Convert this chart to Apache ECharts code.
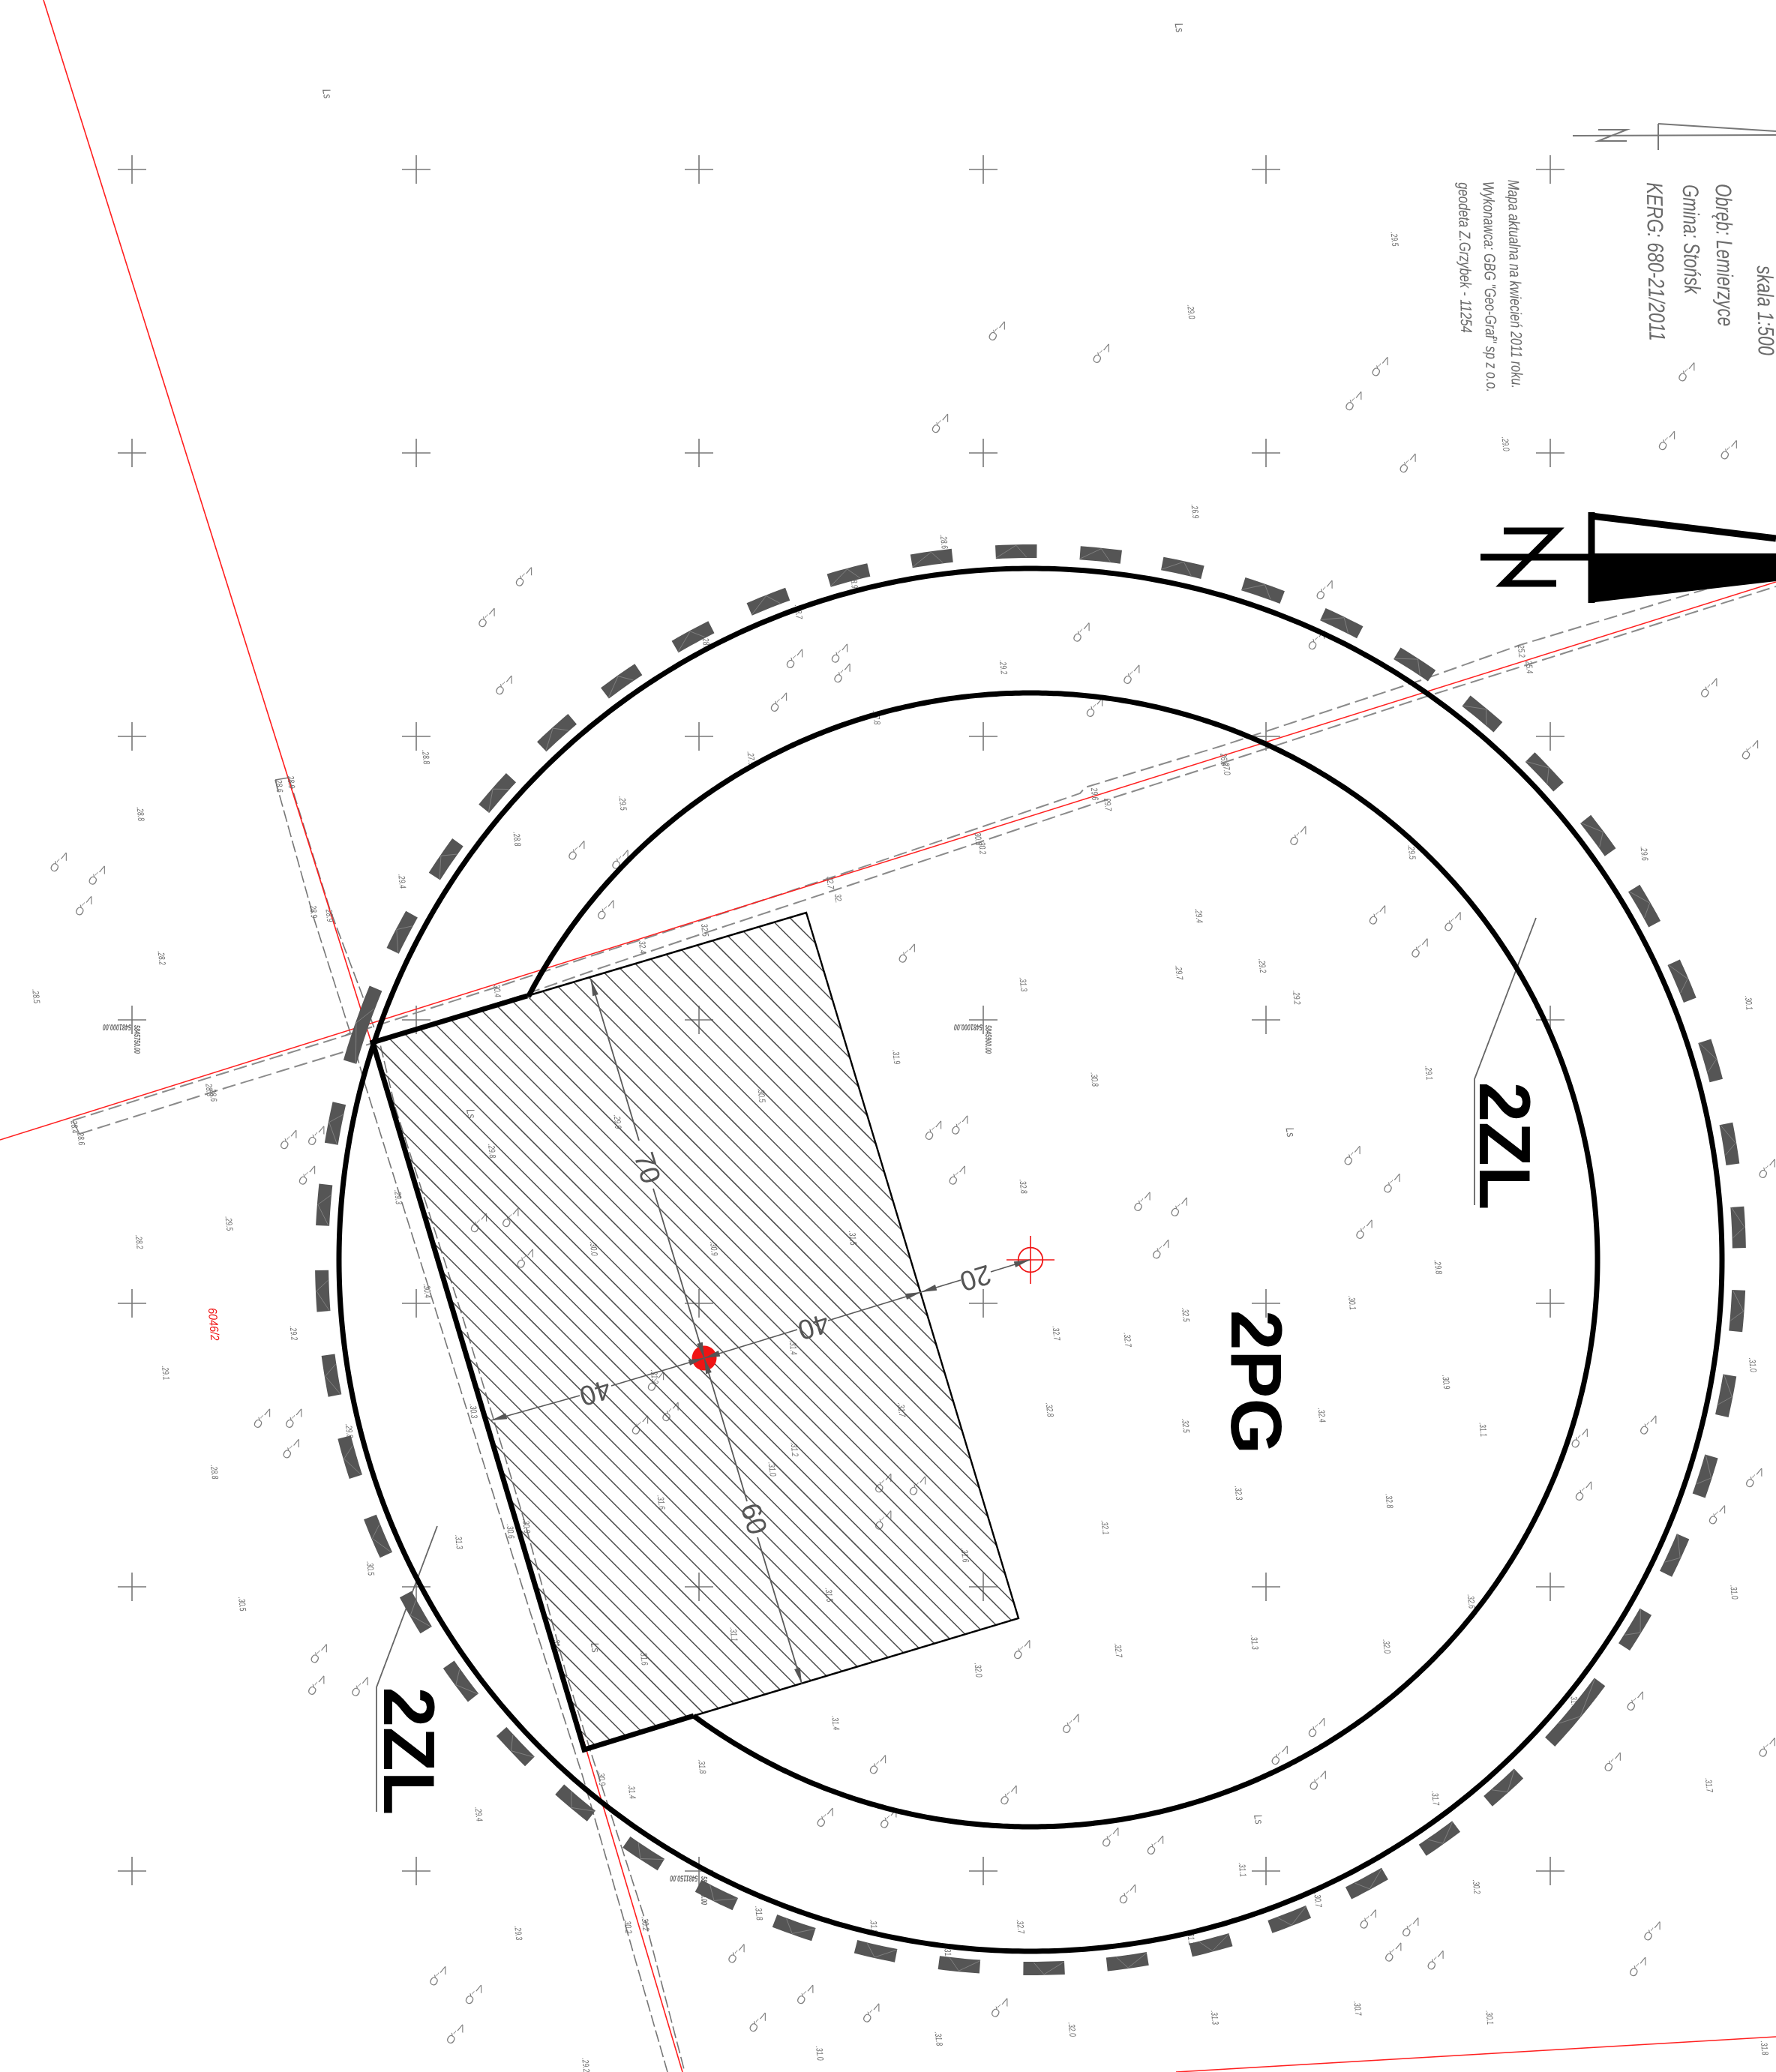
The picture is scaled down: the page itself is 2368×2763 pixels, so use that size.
<!DOCTYPE html>
<html><head><meta charset="utf-8">
<style>html,body{margin:0;padding:0;background:#fff}#c{width:2368px;height:2763px}</style>
<script src="https://cdn.jsdelivr.net/npm/echarts@6/dist/echarts.min.js"></script>
</head><body><div id="c"></div>
<script>
// ---- sheet data: all coordinates are sheet units of the map ----
const sheetW = 2368, sheetH = 2763;
const previewUnit = 2368 / 1344;   // values listed in "sheet/1.762" units below

const gridX = [176, 555, 932, 1311, 1688, 2067];
const gridY = [226, 604, 982, 1360, 1738, 2116, 2495];

const target = [1374, 1680];
const outerRadius = 922, innerRadius = 756, ringRadius = 945;
const parcelThick = [[703,1328],[497,1390],[779,2333],[925,2288]];
const parcelThin = [[703,1328],[1075,1217],[1358,2158],[925,2288]];
const parcelCorners = [[497,1390],[1075,1217],[1358,2158],[779,2333]];
const hatchAnchor = [1053,1223.7], hatchSlope = 1.0, hatchStep = 18.9;

const redLines = [
  [[58,0],[495,1390],[782,2334],[910,2763]],
  [[0,1520],[2368,776]],
  [[1568,2763],[2368,2716]]
];
const roadUpper = [[97,1494],[237,1450],[460,1381],[660,1317],[800,1271],[1000,1206],[1112,1169],[1305,1104],[1440,1058],[1447,1050],[1631,994],[1895,907],[2027,860],[2270,787],[2368,755]];
const roadLower = [[106,1512],[303,1450],[500,1390],[700,1326],[800,1291],[934,1246],[1116,1186],[1309,1122],[1455,1073],[1631,1017],[1895,931],[2368,782]];
const pathLeft = [[367,1040],[418,1223],[467,1377],[487,1447],[707,2150],[777,2369],[890,2763]];
const pathRight = [[385,1037],[440,1213],[483,1327],[507,1393],[527,1477],[618,1760],[700,2031],[755,2232],[787,2334],[860,2560],[913,2763]];
const roadEnds = [[[97,1494],[106,1512]],[[367,1040],[385,1037]],[[467,1377],[460,1381]]];

const leaders = [
  [[2048,1224],[1966,1439],[1966,1607]],
  [[583,2035],[502,2250],[502,2416]]
];
const dimSegments = [
  [[939,1811],[1063,1773]],[[1104,1761],[1228,1723]],
  [[1228,1723],[1281,1707]],[[1321,1696],[1373,1680]],
  [[939,1811],[815,1848]],[[773,1861],[655,1894]],
  [[788,1307],[852,1521]],[[871,1585],[939,1811]],
  [[939,1811],[996,2002]],[[1010,2050],[1069,2245]]
];
const dimArrows = [ // tip, tail
  [[1373,1680],[1321,1696]],[[1228,1723],[1281,1707]],[[1228,1723],[1104,1761]],
  [[939,1811],[1063,1773]],[[939,1811],[815,1848]],[[655,1894],[773,1861]],
  [[788,1307],[852,1521]],[[939,1811],[871,1585]],[[939,1811],[996,2002]],[[1069,2245],[1010,2050]]
];
const dimLabels = [['20',1300,1702,163],['40',1084,1767,163],['40',793,1855,163],['70',861,1558,73],['60',1003,2026,73]];

// ring dash centres (preview units) with dash length in sheet units
const ringDashes = [[790,1489],[726,1487],[663,1476],[601,1459],[542,1435],[487,1403],[435,1365],[390,1322],[348,1273],[315,1220],[285,1163],[264,1103],[250,1041],[243,977],[245,912],[252,850],[303,705],[337,650],[375,599],[420,553],[470,515],[524,481],[581,454],[642,434],[705,421],[769,416],[833,419],[895,429],[956,446],[1016,470],[1071,502],[1122,540],[1168,585],[1210,632],[1244,686],[1272,743],[1294,803],[1308,866],[1315,929],[1314,992],[1305,1056],[1290,1117],[1267,1177],[1237,1233],[1137,1352],[1089,1391],[1034,1425],[975,1451],[916,1471],[853,1484]];
const ringLongDashes = [[272,775],[1191,1295]];

const treeMarks = [[1277,281],[1309,340],[1262,333],[1045,277],[1025,303],[1066,350],[755,250],[834,267],[712,320],[1003,446],[997,484],[819,478],[857,510],[829,535],[1294,520],[1325,567],[397,436],[369,467],[382,518],[602,498],[636,494],[638,509],[590,531],[437,643],[459,688],[470,650],[687,721],[983,632],[1043,692],[1100,697],[1075,717],[45,652],[74,662],[64,685],[219,862],[240,859],[233,889],[707,855],[727,851],[725,889],[1024,874],[1054,895],[1033,930],[865,909],[893,913],[879,945],[363,925],[387,921],[398,952],[1196,1088],[1248,1078],[1199,1128],[1338,884],[1328,1118],[1300,1146],[199,1073],[223,1073],[221,1096],[485,1078],[508,1068],[497,1045],[669,1122],[695,1124],[669,1150],[774,1248],[811,1304],[997,1307],[969,1328],[998,1347],[1238,1287],[1221,1333],[1338,1322],[242,1251],[240,1275],[273,1276],[764,1358],[665,1335],[625,1375],[673,1376],[841,1390],[875,1396],[854,1433],[1251,1461],[1240,1488],[1068,1458],[1055,1477],[1087,1483],[1036,1452],[558,1478],[610,1509],[574,1530],[660,1523],[757,1519],[332,1495],[359,1509],[345,1539]];

const spotHeights = [[1055,181,'.29.5'],[901,236,'.29.0'],[1139,336,'.29.0'],[904,387,'.26.9'],[714,410,'.28.6'],[646,440,'.28.9'],[604,463,'.28.7'],[534,487,'.28.9'],[759,505,'.29.2'],[663,543,'.27.8'],[568,574,'.27.9'],[322,573,'.28.8'],[471,608,'.29.5'],[106,616,'.28.8'],[391,635,'.28.8'],[304,667,'.29.4'],[122,725,'.28.2'],[27,754,'.28.5'],[1068,645,'.29.5'],[1244,646,'.29.6'],[907,693,'.29.4'],[892,736,'.29.7'],[955,731,'.29.2'],[981,755,'.29.2'],[774,745,'.31.3'],[1081,812,'.29.1'],[1323,759,'.30.1'],[678,800,'.31.9'],[828,817,'.30.8'],[576,829,'.30.5'],[467,849,'.29.9'],[372,871,'.29.8'],[301,906,'.29.3'],[774,898,'.32.8'],[645,937,'.31.5'],[540,945,'.30.9'],[449,945,'.30.0'],[173,926,'.29.5'],[105,940,'.28.2'],[222,1009,'.29.2'],[125,1039,'.29.1'],[323,977,'.30.4'],[897,995,'.32.5'],[1088,959,'.29.8'],[1023,986,'.30.1'],[799,1009,'.32.7'],[853,1014,'.32.7'],[600,1020,'.31.4'],[1326,1033,'.31.0'],[1094,1046,'.30.9'],[1000,1071,'.32.4'],[1122,1082,'.31.1'],[897,1079,'.32.5'],[794,1067,'.32.8'],[682,1067,'.31.7'],[495,1042,'.31.2'],[264,1083,'.29.8'],[358,1068,'.30.3'],[601,1097,'.31.2'],[584,1112,'.31.0'],[1051,1136,'.32.8'],[937,1130,'.32.3'],[836,1156,'.32.1'],[162,1114,'.28.8'],[500,1137,'.31.6'],[730,1177,'.31.6'],[627,1207,'.31.5'],[347,1167,'.31.3'],[280,1187,'.30.5'],[183,1214,'.30.5'],[386,1159,'.30.6'],[398,1155,'.30.9'],[1312,1205,'.31.0'],[1113,1212,'.32.6'],[949,1243,'.31.3'],[846,1249,'.32.7'],[740,1264,'.32.0'],[1049,1246,'.32.0'],[555,1237,'.31.1'],[487,1255,'.31.6'],[421,1245,'.31.4'],[632,1304,'.31.4'],[1191,1288,'.31.5'],[1293,1351,'.31.7'],[1086,1361,'.31.7'],[531,1337,'.31.8'],[478,1356,'.31.4'],[455,1346,'.30.9'],[362,1373,'.29.4'],[1117,1428,'.30.2'],[997,1438,'.30.7'],[940,1415,'.31.1'],[772,1458,'.32.7'],[574,1448,'.31.8'],[392,1463,'.29.3'],[661,1458,'.31.8'],[717,1479,'.31.7'],[901,1467,'.31.1'],[488,1456,'.30.2'],[475,1458,'.30.2'],[1127,1527,'.30.1'],[1027,1520,'.30.7'],[919,1527,'.31.3'],[811,1536,'.32.0'],[710,1543,'.31.8'],[620,1554,'.31.0'],[443,1563,'.29.2'],[1335,1550,'.31.8'],[211,595,'28.6'],[220,592,'28.9'],[237,690,'28.9'],[249,693,'28.9'],[376,750,'30.4'],[486,717,'32.4'],[533,704,'32.5'],[628,668,'32.7'],[634,680,'32.'],[740,635,'30.3'],[743,642,'30.2'],[828,601,'29.6'],[838,609,'29.7'],[926,575,'26.8'],[928,582,'27.0'],[1151,493,'25.2'],[1157,505,'25.4'],[158,825,'28.3'],[161,829,'28.6'],[56,853,'28.4'],[61,862,'28.6']];
const landUseLabels = [[892,21,'Ls'],[247,71,'Ls'],[976,857,'Ls'],[356,843,'Ls'],[450,1247,'Ls'],[952,1377,'Ls']];

const titleLines = [
  ['skala 1:500',1335,235,30,0.78],
  ['Obręb: Lemierzyce',1304,193,30,0.75],
  ['Gmina: Stońsk',1279,181,30,0.74],
  ['KERG: 680-21/2011',1252,198,30,0.79],
  ['Mapa aktualna na kwiecień 2011 roku.',1146,215,21,0.78],
  ['Wykonawca: GBG "Geo-Graf" sp z o.o.',1127,217,21,0.77],
  ['geodeta Z.Grzybek - 11254',1108,195,21,0.79]
];
const zoneLabels = [['2ZL',1999,1528],['2ZL',538,2335],['2PG',1668,1843]];
const parcelNumber = ['6046/2',284,1766];
const gridCoords = [
  ['5481000.00',156,1369,180],['5845750.00',182,1386,90],
  ['5481000.00',1291,1369,180],['5845900.00',1317,1386,90],
  ['5481150.00',912,2504,180],['5845850.00',938,2521,90]
];
const smallNorth = {n:[[2131,173],[2169,173],[2131,188],[2169,188]], axis:[[2097,181],[2368,180]], post:[[2211,165],[2211,200]], wing:[[2211,165],[2368,175]]};
const bigNorth = {n:[[2005,708],[2075,708],[2005,778],[2075,778]], axis:[[1974,743],[2124,743]], post:[[2122,683],[2122,804]], wing:[[2122,688],[2368,718]], fill:[[2118,738],[2368,738],[2368,775],[2118,804]]};

// ---- helpers ----
const rad = d => d * Math.PI / 180;
const sheet = p => [p[0] * previewUnit, p[1] * previewUnit];

function custom(name, items, render, z) {
  return {type:'custom', name, coordinateSystem:'cartesian2d', silent:true, clip:true, z:z||2,
    data: items.map((_, i) => [i, 0]), encode:{x:-1,y:-1},
    renderItem:(params, api) => render(items[params.dataIndex], api)};
}
function lines(name, paths, style, z) {
  return custom(name, paths, (p, api) => ({type:'polyline', shape:{points:p.map(q => api.coord(q))},
    style:Object.assign({fill:null, lineJoin:'miter'}, style)}), z);
}
function polygons(name, polys, fill, z) {
  return custom(name, polys, (p, api) => ({type:'polygon', shape:{points:p.map(q => api.coord(q))}, style:{fill}}), z);
}
// rows: [text, x, y, clockwise degrees, fontSize?, scaleX?]
function texts(name, rows, style, baseScale, z) {
  return custom(name, rows, (r, api) => {
    const c = api.coord([r[1], r[2]]);
    return {type:'text', x:c[0], y:c[1], rotation:-rad(r[3]||0), scaleX:r[5]||baseScale||1, scaleY:1,
      style:Object.assign({text:r[0], align:'center', verticalAlign:'middle'}, style, r[4]?{fontSize:r[4]}:{})};
  }, z);
}

// hatch lines clipped to the parcel
function hatchLines() {
  const len = Math.hypot(1, hatchSlope), d = [1/len, hatchSlope/len], n = [hatchSlope/len, -1/len], out = [];
  for (let k = -60; k <= 120; k++) {
    const p = [hatchAnchor[0] + n[0]*hatchStep*k, hatchAnchor[1] + n[1]*hatchStep*k], ts = [];
    parcelCorners.forEach((a, i) => {
      const b = parcelCorners[(i+1)%4], e = [b[0]-a[0], b[1]-a[1]];
      const den = d[0]*e[1]-d[1]*e[0]; if (Math.abs(den) < 1e-9) return;
      const t = ((a[0]-p[0])*e[1]-(a[1]-p[1])*e[0])/den;
      const u = ((a[0]-p[0])*d[1]-(a[1]-p[1])*d[0])/den;
      if (u >= 0 && u <= 1) ts.push(t);
    });
    if (ts.length >= 2) {
      const t0 = Math.min(...ts), t1 = Math.max(...ts);
      out.push([[p[0]+d[0]*t0, p[1]+d[1]*t0],[p[0]+d[0]*t1, p[1]+d[1]*t1]]);
    }
  }
  return out;
}
function arrowHead(a) {
  const [tip, tail] = a, L = Math.hypot(tail[0]-tip[0], tail[1]-tip[1]);
  const u = [(tail[0]-tip[0])/L, (tail[1]-tip[1])/L], v = [-u[1], u[0]], h = 21, w = 4;
  return [tip, [tip[0]+u[0]*h+v[0]*w, tip[1]+u[1]*h+v[1]*w], [tip[0]+u[0]*h-v[0]*w, tip[1]+u[1]*h-v[1]*w]];
}
const crosses = [];
gridX.forEach(x => gridY.forEach(y => { crosses.push([[x-19,y],[x+19,y]]); crosses.push([[x,y-19],[x,y+19]]); }));

function ringDashSeries(list, lenPx) {
  return custom('ring', list, (p, api) => {
    const s = sheet(p), a = Math.atan2(s[1]-target[1], s[0]-target[0]), da = lenPx/ringRadius/2;
    const c = api.coord(target), r = api.size([ringRadius, 0])[0];
    const pt = (ang, rr) => [c[0]+Math.cos(ang)*rr, c[1]+Math.sin(ang)*rr];
    const outer = [], inner = [];
    for (let i = 0; i <= 6; i++) { const t = a-da+2*da*i/6; outer.push(pt(t, r+9)); inner.unshift(pt(t, r-9)); }
    return {type:'group', children:[
      {type:'polygon', shape:{points:outer.concat(inner)}, style:{fill:'#555555'}},
      {type:'polyline', shape:{points:[pt(a-da, r-8), pt(a, r+8), pt(a+da*0.5, r-8)]}, style:{stroke:'#8a8a8a', lineWidth:0.8, fill:null}}
    ]};
  }, 6);
}
function arcSeries(name, r, start, end) {
  return custom(name, [0], (_, api) => {
    const c = api.coord(target), R = api.size([r,0])[0], pts = [], n = 720;
    for (let i = 0; i <= n; i++) { const t = start+(end-start)*i/n; pts.push([c[0]+Math.cos(t)*R, c[1]+Math.sin(t)*R]); }
    return {type:'polyline', shape:{points:pts}, style:{stroke:'#000', lineWidth:7, fill:null}};
  }, 7);
}
const innerStart = Math.atan2(parcelThick[0][1]-target[1], parcelThick[0][0]-target[0]);
const innerEnd = Math.atan2(parcelThick[3][1]-target[1], parcelThick[3][0]-target[0]);

const labelFont = '"Liberation Sans",sans-serif';
const chart = echarts.init(document.getElementById('c'), null, {renderer:'canvas', width:sheetW, height:sheetH});
chart.setOption({
  animation:false, backgroundColor:'#ffffff',
  grid:{left:0, right:0, top:0, bottom:0},
  xAxis:{type:'value', min:0, max:sheetW, show:false},
  yAxis:{type:'value', min:0, max:sheetH, inverse:true, show:false},
  series:[
    lines('grid crosses', crosses, {stroke:'#777777', lineWidth:1.6}, 1),
    lines('road upper', [roadUpper], {stroke:'#8a8a8a', lineWidth:2, lineDash:[18,7]}, 2),
    lines('road lower', [roadLower], {stroke:'#8a8a8a', lineWidth:2, lineDash:[18,7]}, 2),
    lines('path left', [pathLeft], {stroke:'#777777', lineWidth:1.6, lineDash:[16,5]}, 2),
    lines('path right', [pathRight], {stroke:'#777777', lineWidth:1.6, lineDash:[16,5]}, 2),
    lines('road ends', roadEnds, {stroke:'#777777', lineWidth:1.4}, 2),
    lines('parcel boundaries', redLines, {stroke:'#ff2020', lineWidth:1.6}, 3),
    lines('hatch', hatchLines(), {stroke:'#4d4d4d', lineWidth:1.5}, 4),
    lines('parcel thin', [parcelThin], {stroke:'#000', lineWidth:2.4}, 5),
    lines('parcel thick', [parcelThick], {stroke:'#000', lineWidth:7}, 7),
    ringDashSeries(ringDashes, 55),
    ringDashSeries(ringLongDashes, 104),
    arcSeries('outer circle', outerRadius, 0, Math.PI*2),
    arcSeries('inner circle', innerRadius, innerStart, innerEnd + (innerEnd < innerStart ? Math.PI*2 : 0)),
    lines('leaders', leaders, {stroke:'#666666', lineWidth:1.8}, 5),
    custom('red dot', [[939,1811]], (p, api) => { const c = api.coord(p);
      return {type:'circle', shape:{cx:c[0], cy:c[1], r:16.5}, style:{fill:'#f01414'}}; }, 8),
    custom('target', [target], (p, api) => { const c = api.coord(p);
      return {type:'group', children:[
        {type:'circle', shape:{cx:c[0], cy:c[1], r:16.3}, style:{fill:null, stroke:'#f01414', lineWidth:1.8}},
        {type:'line', shape:{x1:c[0]-32, y1:c[1], x2:c[0]+32, y2:c[1]}, style:{stroke:'#f01414', lineWidth:1.6}},
        {type:'line', shape:{x1:c[0], y1:c[1]-32, x2:c[0], y2:c[1]+32}, style:{stroke:'#f01414', lineWidth:1.6}}
      ]}; }, 8),
    lines('dimensions', dimSegments, {stroke:'#5a5a5a', lineWidth:1.8}, 9),
    polygons('dimension arrows', dimArrows.map(arrowHead), '#555555', 9),
    texts('dimension labels', dimLabels, {fontSize:37, fontFamily:'"Liberation Sans",sans-serif', fill:'#555555'}, 1, 9),
    lines('small north', [smallNorth.n, smallNorth.axis, smallNorth.post, smallNorth.wing], {stroke:'#777777', lineWidth:2}, 3),
    polygons('north fill', [bigNorth.fill], '#000', 8),
    lines('big north', [bigNorth.n, bigNorth.axis, bigNorth.post, bigNorth.wing], {stroke:'#000', lineWidth:9}, 8),
    texts('spot heights', spotHeights.map(r => { const s = sheet(r); return [r[2], s[0], s[1], 84]; }),
      {fontSize:12, fontFamily:labelFont, fontStyle:'italic', fill:'#6a6a6a'}, 0.72, 3),
    texts('land use', landUseLabels.map(r => { const s = sheet(r); return [r[2], s[0], s[1], 80]; }),
      {fontSize:15, fontFamily:labelFont, fontStyle:'italic', fill:'#6f6f6f'}, 0.8, 3),
    custom('land marks', treeMarks, (p, api) => {
      const c = api.coord(sheet(p));
      const t = (txt, dx, dy, rot, fs) => ({type:'text', x:c[0]+dx, y:c[1]+dy, rotation:rad(rot),
        style:{text:txt, fontSize:fs, fontFamily:'"Open Sans",sans-serif', fill:'#7f7f7f', align:'center', verticalAlign:'middle'}});
      return {type:'group', children:[t('Q', -6, 7, 150, 15), t('Λ', 7, -6, -20, 14), t('~', -1, -1, 55, 11)]};
    }, 3),
    texts('title block', titleLines.map(r => { const s = sheet([r[1], r[2]]); return [r[0], s[0], s[1], 89, r[3], r[4]]; }),
      {fontFamily:labelFont, fontStyle:'italic', fill:'#6a6a6a'}, 1, 3),
    texts('zone labels', zoneLabels.map(r => [r[0], r[1], r[2], 90]),
      {fontSize:96, fontWeight:'bold', fontFamily:'"Liberation Sans",sans-serif', fill:'#000'}, 1, 8),
    texts('parcel number', [[parcelNumber[0], parcelNumber[1], parcelNumber[2], 85]],
      {fontSize:16, fontFamily:labelFont, fontStyle:'italic', fill:'#f01414'}, 0.9, 3),
    texts('grid coordinates', gridCoords,
      {fontSize:11, fontWeight:'bold', fontFamily:labelFont, fontStyle:'italic', fill:'#666666'}, 0.65, 3)
  ]
});
</script></body></html>
